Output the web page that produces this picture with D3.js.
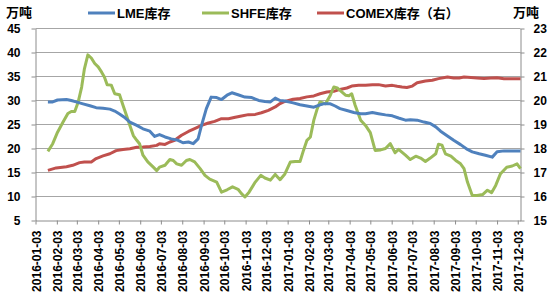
<!doctype html>
<html>
<head>
<meta charset="utf-8">
<script src="https://cdnjs.cloudflare.com/ajax/libs/d3/7.8.5/d3.min.js"></script>
<style>
body { margin: 0; background: #fff; }
text {
  font-family: "Liberation Sans", "Noto Sans CJK SC", sans-serif;
  font-weight: bold;
  fill: #000;
}
.grid line { stroke: #a6a6a6; stroke-width: 1px; }
.axis path, .axis line { stroke: #8c8c8c; stroke-width: 1px; }
.series { fill: none; stroke-width: 3px; stroke-linejoin: round; }
</style>
</head>
<body>
<svg width="550" height="300"></svg>
<script>
// month ticks on the x axis
var tickLabels = ["2016-01-03","2016-02-03","2016-03-03","2016-04-03","2016-05-03","2016-06-03",
  "2016-07-03","2016-08-03","2016-09-03","2016-10-03","2016-11-03","2016-12-03",
  "2017-01-03","2017-02-03","2017-03-03","2017-04-03","2017-05-03","2017-06-03",
  "2017-07-03","2017-08-03","2017-09-03","2017-10-03","2017-11-03","2017-12-03"]
var leftTicks = [5,10,15,20,25,30,35,40,45]
var rightTicks = [15,16,17,18,19,20,21,22,23]

// LME库存 (left axis, 万吨)
var lme = [["2016-01-21",29.6],["2016-01-28",29.6],["2016-02-04",30.0],["2016-02-17",30.1],["2016-02-24",29.9],
  ["2016-03-02",29.6],["2016-03-12",29.2],["2016-03-22",28.8],["2016-03-31",28.4],["2016-04-10",28.3],
  ["2016-04-20",28.1],["2016-04-27",27.7],["2016-05-04",27.1],["2016-05-12",26.3],["2016-05-19",25.4],
  ["2016-05-29",24.7],["2016-06-07",24.0],["2016-06-17",23.5],["2016-06-24",22.4],["2016-07-01",22.8],
  ["2016-07-09",22.3],["2016-07-18",21.9],["2016-07-28",21.6],["2016-08-04",21.1],["2016-08-12",21.25],
  ["2016-08-19",20.9],["2016-08-26",21.9],["2016-08-31",24.7],["2016-09-07",28.2],["2016-09-14",30.6],
  ["2016-09-22",30.5],["2016-09-29",30.1],["2016-10-07",31.0],["2016-10-14",31.5],["2016-10-23",31.1],
  ["2016-11-02",30.6],["2016-11-12",30.5],["2016-11-22",29.9],["2016-12-01",29.7],["2016-12-09",29.6],
  ["2016-12-16",30.4],["2016-12-23",29.9],["2016-12-30",29.8],["2017-01-11",29.4],["2017-01-21",29.0],
  ["2017-01-31",28.75],["2017-02-10",28.5],["2017-02-17",28.9],["2017-02-24",29.2],["2017-03-06",29.2],
  ["2017-03-13",28.75],["2017-03-20",28.2],["2017-03-30",27.8],["2017-04-09",27.4],["2017-04-19",27.15],
  ["2017-04-26",27.15],["2017-05-06",27.4],["2017-05-15",27.15],["2017-05-25",26.9],["2017-06-04",26.7],
  ["2017-06-13",26.25],["2017-06-23",25.8],["2017-06-30",25.9],["2017-07-10",25.8],["2017-07-20",25.4],
  ["2017-07-29",25.1],["2017-08-06",24.4],["2017-08-13",23.5],["2017-08-23",22.5],["2017-09-01",21.6],
  ["2017-09-11",20.7],["2017-09-21",19.7],["2017-09-28",19.2],["2017-10-08",18.8],["2017-10-17",18.5],
  ["2017-10-27",18.1],["2017-11-03",19.2],["2017-11-13",19.4],["2017-11-28",19.4],["2017-12-07",19.4]]

// SHFE库存 (left axis, 万吨)
var shfe = [["2016-01-21",19.3],["2016-01-28",20.9],["2016-02-04",23.3],["2016-02-12",25.4],["2016-02-19",27.2],
  ["2016-02-24",27.6],["2016-02-29",27.6],["2016-03-05",29.6],["2016-03-10",32.7],["2016-03-14",36.5],
  ["2016-03-19",39.4],["2016-03-24",38.75],["2016-03-29",37.6],["2016-04-03",36.9],["2016-04-08",35.8],
  ["2016-04-12",34.8],["2016-04-16",33.2],["2016-04-22",33.1],["2016-04-27",31.3],["2016-05-04",31.1],
  ["2016-05-09",28.9],["2016-05-14",26.8],["2016-05-19",24.7],["2016-05-24",22.6],["2016-05-29",21.6],
  ["2016-06-02",20.9],["2016-06-07",18.5],["2016-06-14",17.1],["2016-06-22",16.0],["2016-06-27",15.3],
  ["2016-07-01",16.0],["2016-07-09",16.4],["2016-07-16",17.6],["2016-07-21",17.4],["2016-07-26",16.7],
  ["2016-08-02",16.4],["2016-08-09",17.4],["2016-08-14",17.6],["2016-08-21",17.1],["2016-08-29",15.7],
  ["2016-09-05",14.3],["2016-09-12",13.5],["2016-09-22",12.9],["2016-09-29",10.8],["2016-10-07",11.3],
  ["2016-10-15",11.9],["2016-10-23",11.4],["2016-10-28",10.5],["2016-11-02",9.8],["2016-11-08",10.8],
  ["2016-11-17",12.9],["2016-11-25",14.3],["2016-12-01",13.75],["2016-12-09",13.3],["2016-12-16",14.5],
  ["2016-12-23",13.4],["2016-12-30",14.6],["2017-01-07",17.1],["2017-01-14",17.2],["2017-01-21",17.2],
  ["2017-01-26",19.5],["2017-01-31",21.6],["2017-02-05",22.3],["2017-02-10",25.8],["2017-02-15",28.2],
  ["2017-02-19",29.6],["2017-02-27",29.2],["2017-03-06",31.0],["2017-03-11",32.7],["2017-03-16",32.5],
  ["2017-03-20",32.0],["2017-03-28",31.0],["2017-04-02",30.9],["2017-04-06",31.3],["2017-04-11",28.9],
  ["2017-04-19",25.8],["2017-04-26",24.7],["2017-05-03",23.2],["2017-05-10",19.5],["2017-05-18",19.6],
  ["2017-05-25",19.9],["2017-06-01",20.9],["2017-06-08",19.0],["2017-06-13",19.7],["2017-06-23",18.5],
  ["2017-06-30",17.6],["2017-07-08",18.3],["2017-07-15",17.9],["2017-07-22",17.2],["2017-07-29",17.9],
  ["2017-08-06",18.8],["2017-08-10",20.8],["2017-08-15",20.6],["2017-08-20",18.8],["2017-08-28",18.3],
  ["2017-09-04",17.4],["2017-09-11",16.7],["2017-09-16",15.7],["2017-09-21",12.9],["2017-09-28",10.1],
  ["2017-10-05",10.1],["2017-10-13",10.3],["2017-10-20",11.2],["2017-10-26",10.7],["2017-11-01",12.2],
  ["2017-11-08",14.65],["2017-11-17",16.0],["2017-11-25",16.25],["2017-12-02",16.7],["2017-12-07",15.7]]

// COMEX库存 (right axis, 万吨)
var comex = [["2016-01-21",17.07],["2016-02-02",17.17],["2016-02-17",17.22],["2016-02-26",17.28],["2016-03-07",17.39],
  ["2016-03-14",17.42],["2016-03-24",17.42],["2016-03-31",17.56],["2016-04-10",17.67],["2016-04-20",17.76],
  ["2016-04-29",17.89],["2016-05-09",17.94],["2016-05-19",17.97],["2016-05-29",18.03],["2016-06-07",18.04],
  ["2016-06-17",18.06],["2016-06-27",18.11],["2016-07-01",18.18],["2016-07-09",18.15],["2016-07-16",18.25],
  ["2016-07-23",18.32],["2016-08-02",18.53],["2016-08-12",18.69],["2016-08-21",18.81],["2016-08-31",18.94],
  ["2016-09-10",19.04],["2016-09-19",19.11],["2016-09-29",19.22],["2016-10-09",19.22],["2016-10-19",19.28],
  ["2016-10-28",19.33],["2016-11-07",19.39],["2016-11-17",19.40],["2016-11-26",19.47],["2016-12-06",19.57],
  ["2016-12-16",19.71],["2016-12-23",19.85],["2016-12-30",19.94],["2017-01-11",20.03],["2017-01-21",20.06],
  ["2017-01-31",20.13],["2017-02-10",20.17],["2017-02-19",20.26],["2017-03-01",20.33],["2017-03-11",20.36],
  ["2017-03-20",20.44],["2017-03-30",20.5],["2017-04-06",20.58],["2017-04-16",20.61],["2017-04-26",20.61],
  ["2017-05-06",20.64],["2017-05-15",20.64],["2017-05-25",20.58],["2017-06-04",20.61],["2017-06-11",20.57],
  ["2017-06-18",20.54],["2017-06-25",20.52],["2017-07-03",20.58],["2017-07-10",20.72],["2017-07-22",20.79],
  ["2017-08-01",20.82],["2017-08-10",20.89],["2017-08-23",20.96],["2017-09-01",20.92],["2017-09-09",20.92],
  ["2017-09-16",20.96],["2017-09-26",20.94],["2017-10-05",20.92],["2017-10-15",20.90],["2017-10-25",20.92],
  ["2017-11-03",20.93],["2017-11-13",20.89],["2017-11-23",20.89],["2017-12-07",20.89]]

var parse = d3.utcParse("%Y-%m-%d")
var svg = d3.select("svg")
var mLeft = 35.5, mRight = 520.5, mTop = 28, mBottom = 220

var x = d3.scaleUtc().domain([parse("2016-01-03"), parse("2017-12-07")]).range([mLeft, mRight])
var yL = d3.scaleLinear().domain([5, 45]).range([mBottom, mTop])
var yR = d3.scaleLinear().domain([15, 23]).range([mBottom, mTop])

// horizontal gridlines
svg.append("g").attr("class", "grid")
  .selectAll("line").data(leftTicks.slice(1)).enter().append("line")
  .attr("x1", mLeft).attr("x2", mRight)
  .attr("y1", d => Math.round(yL(d)) + 0.5).attr("y2", d => Math.round(yL(d)) + 0.5)

var axL = svg.append("g").attr("class", "axis").attr("transform", "translate(" + mLeft + ",0.5)")
  .call(d3.axisLeft(yL).tickValues(leftTicks).tickSize(4).tickSizeOuter(0).tickPadding(11))
axL.selectAll("text").style("font-size", "12px")

var axR = svg.append("g").attr("class", "axis").attr("transform", "translate(" + mRight + ",0.5)")
  .call(d3.axisRight(yR).tickValues(rightTicks).tickSize(4).tickSizeOuter(0).tickPadding(9))
axR.selectAll("text").style("font-size", "12px")

var axB = svg.append("g").attr("class", "axis").attr("transform", "translate(0," + (mBottom + 0.5) + ")")
  .call(d3.axisBottom(x).tickValues(tickLabels.map(parse)).tickSize(4).tickSizeOuter(0)
    .tickFormat(d3.utcFormat("%Y-%m-%d")))
axB.selectAll("text")
  .style("font-size", "12px")
  .style("text-anchor", "end")
  .attr("transform", "rotate(-90)")
  .attr("x", -10).attr("y", 0).attr("dy", "0.38em")

// series lines
var lineL = d3.line().x(d => x(parse(d[0]))).y(d => yL(d[1]))
var lineR = d3.line().x(d => x(parse(d[0]))).y(d => yR(d[1]))

svg.append("path").datum(comex).attr("class", "series").attr("stroke", "#c0504d").attr("d", lineR)
svg.append("path").datum(shfe).attr("class", "series").attr("stroke", "#9bbb59").attr("d", lineL)
svg.append("path").datum(lme).attr("class", "series").attr("stroke", "#4f81bd").attr("d", lineL)

// legend
var legend = [
  {name: "LME库存", color: "#4f81bd", x: 88},
  {name: "SHFE库存", color: "#9bbb59", x: 202},
  {name: "COMEX库存（右）", color: "#c0504d", x: 317}
]
var lg = svg.append("g").selectAll("g").data(legend).enter().append("g")
  .attr("transform", d => "translate(" + d.x + ",13)")
lg.append("line").attr("x1", 0).attr("x2", 27).attr("y1", 0).attr("y2", 0)
  .attr("stroke", d => d.color).attr("stroke-width", 3)
lg.append("text").attr("x", 29).attr("y", 5).style("font-size", "13px").text(d => d.name)

// units
svg.append("text").attr("x", 6).attr("y", 17).style("font-size", "13px").text("万吨")
svg.append("text").attr("x", 513).attr("y", 17).style("font-size", "13px").text("万吨")
</script>
</body>
</html>
